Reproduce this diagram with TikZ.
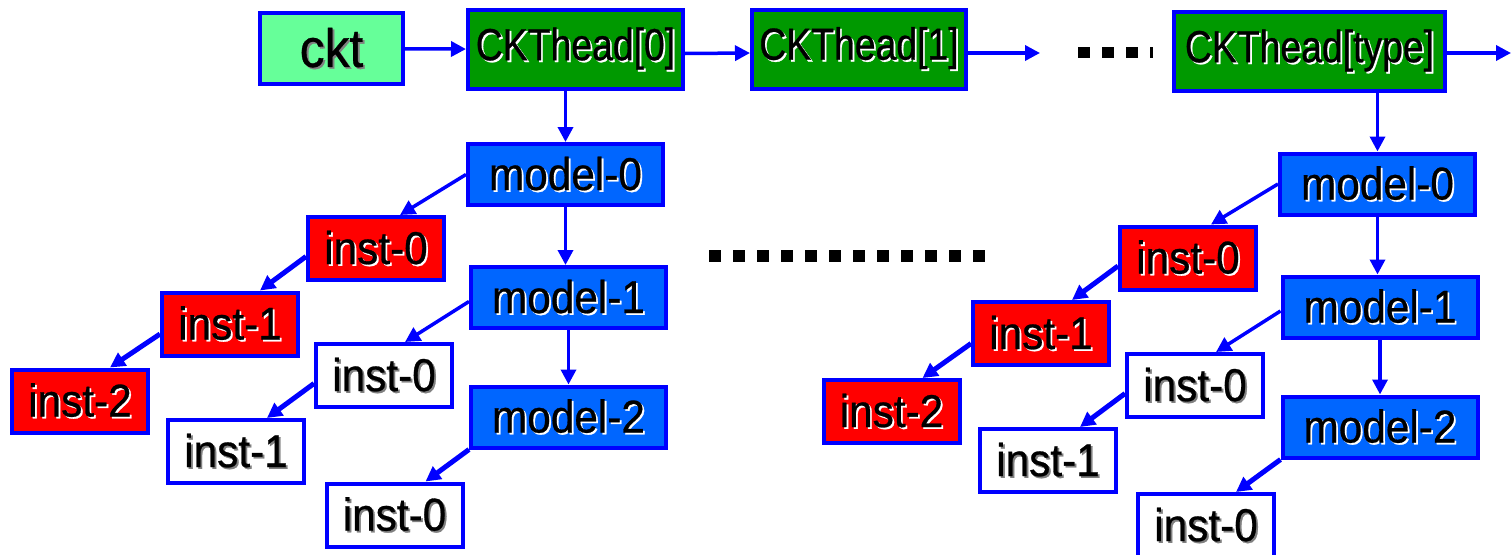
\documentclass[tikz,border=0pt]{standalone}
\usepackage{fontspec}
\setmainfont{Liberation Sans}
\newfontfamily\condfont[FakeStretch=0.92,FakeBold=0.6]{Liberation Sans}
\newfontfamily\narrowfont[FakeStretch=0.83,FakeBold=0.6]{Liberation Sans}
\usetikzlibrary{arrows.meta}

% text with a small offset copy behind it
\newcommand\shtext[2][white]{\makebox[0pt][l]{\hspace{1.8pt}\raisebox{-1.8pt}{\textcolor{#1}{#2}}}#2}

\definecolor{cktgreen}{RGB}{102,255,153}
\definecolor{headgreen}{RGB}{0,153,0}
\definecolor{modelblue}{RGB}{0,102,255}

\begin{document}
\begin{tikzpicture}[x=1pt,y=-1pt,
  box/.style={draw=blue,line width=4pt,inner sep=0pt,text=black},
  cktbox/.style={box,fill=cktgreen,minimum width=143pt,minimum height=71pt,
    font=\condfont\fontsize{54}{58}\selectfont},
  headbox/.style={box,fill=headgreen,minimum height=79pt,
    font=\narrowfont\fontsize{45}{50}\selectfont},
  modelbox/.style={box,fill=modelblue,minimum width=195pt,minimum height=61pt,
    font=\condfont\fontsize{46}{50}\selectfont},
  instbox/.style={box,minimum width=136pt,minimum height=63pt,
    font=\condfont\fontsize{46}{50}\selectfont},
  redinst/.style={instbox,fill=red},
  whiteinst/.style={instbox,fill=white},
  link/.style={draw=blue,line width=3.5pt,-{Triangle[length=15pt,width=15pt]}},
  thick link/.style={link,line width=5pt}]
\useasboundingbox (0,0) rectangle (1511,554);

% head list
\node[cktbox] (ckt) at (331.5,48.5) {\shtext[gray]{ckt}};
\node[headbox,minimum width=215pt] (head0) at (575.5,49.5) {\shtext{CKThead[0]}};
\node[headbox,minimum width=214pt] (head1) at (859,49) {\shtext{CKThead[1]}};
\node[headbox,minimum width=271pt] (headT) at (1309.5,51.5) {\shtext{CKThead[type]}};
\coordinate (gap) at (1040,53);
\coordinate (tail) at (1511,53);

\draw[link] (ckt) -- (head0);
\draw[link] ([yshift=-4pt]head0.east) -- ([yshift=-4pt]head1.west);
\draw[link] ([yshift=-4pt]head1.east) -- (gap);
\draw[link] ([yshift=-1.5pt]headT.east) -- (tail);
\foreach \i in {0,1,2}{
\fill (1078+24*\i,47) rectangle ++(12,11);
}
\fill (1150,47) rectangle ++(3,11);

% models and instances under CKThead[0]
\node[modelbox] (m0) at (565.5,174.5) {\shtext{model-0}};
\node[modelbox] (m1) at (568.5,297.5) {\shtext{model-1}};
\node[modelbox] (m2) at (568.5,417) {\shtext{model-2}};
\node[redinst] (r0) at (376,248.5) {\shtext{inst-0}};
\node[redinst] (r1) at (230,324) {\shtext{inst-1}};
\node[redinst] (r2) at (80,401) {\shtext{inst-2}};
\node[whiteinst] (w0) at (384,375.5) {\shtext[gray]{inst-0}};
\node[whiteinst] (w1) at (236,451.5) {\shtext[gray]{inst-1}};
\node[whiteinst] (w2) at (394.5,515) {\shtext[gray]{inst-0}};

\draw[link] (head0.south -| m0.north) -- (m0.north);
\draw[link] (m0.south) -- (m0.south |- m1.north);
\draw[link] (m1.south) -- (m1.south |- m2.north);
\draw[link] (m0.west) -- ([xshift=24pt]r0.north);
\draw[thick link] ([yshift=-8pt]r0.west) -- ([xshift=30pt]r1.north);
\draw[thick link] ([yshift=-10pt]r1.west) -- ([xshift=30pt]r2.north);
\draw[link] ([yshift=-4pt]m1.west) -- ([xshift=21pt]w0.north);
\draw[thick link] ([yshift=-8pt]w0.west) -- ([xshift=31pt]w1.north);
\draw[thick link] (m2.south west) -- ([xshift=31pt]w2.north);

% models and instances under CKThead[type]
\node[modelbox] (M0) at (1377.5,184) {\shtext{model-0}};
\node[modelbox] (M1) at (1380,307) {\shtext{model-1}};
\node[modelbox] (M2) at (1380,427) {\shtext{model-2}};
\node[redinst] (R0) at (1188,258) {\shtext{inst-0}};
\node[redinst] (R1) at (1041,333.5) {\shtext{inst-1}};
\node[redinst] (R2) at (891.5,411.5) {\shtext{inst-2}};
\node[whiteinst] (W0) at (1195,385.5) {\shtext[gray]{inst-0}};
\node[whiteinst] (W1) at (1048,460.5) {\shtext[gray]{inst-1}};
\node[whiteinst] (W2) at (1206,525.5) {\shtext[gray]{inst-0}};

\draw[link] (headT.south -| M0.north) -- (M0.north);
\draw[link] (M0.south) -- (M0.south |- M1.north);
\draw[link] (M1.south) -- (M1.south |- M2.north);
\draw[link] (M0.west) -- ([xshift=23pt]R0.north);
\draw[thick link] ([yshift=-8pt]R0.west) -- ([xshift=31pt]R1.north);
\draw[thick link] ([yshift=-10pt]R1.west) -- ([xshift=31pt]R2.north);
\draw[link] ([yshift=-4pt]M1.west) -- ([xshift=21pt]W0.north);
\draw[thick link] ([yshift=-8pt]W0.west) -- ([xshift=32pt]W1.north);
\draw[thick link] (M2.south west) -- ([xshift=30pt]W2.north);

% row of dots between the two groups
\foreach \i in {0,...,11}{
\fill (709+24*\i,250) rectangle ++(12,12);
}
\end{tikzpicture}
\end{document}
